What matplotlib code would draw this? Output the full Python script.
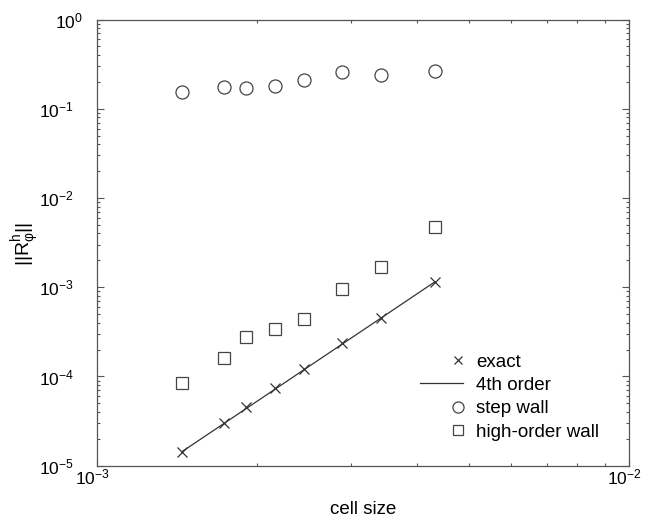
import matplotlib
matplotlib.use("Agg")
import matplotlib.pyplot as plt
from matplotlib.ticker import LogLocator, FuncFormatter, NullFormatter
from matplotlib.legend_handler import HandlerLine2DCompound
from matplotlib.transforms import ScaledTranslation
import numpy as np

plt.rcParams['font.family'] = ['Liberation Sans', 'DejaVu Sans']
plt.rcParams['mathtext.fontset'] = 'custom'
plt.rcParams['mathtext.rm'] = 'Liberation Sans'
plt.rcParams['mathtext.it'] = 'Liberation Sans:italic'
plt.rcParams['mathtext.bf'] = 'Liberation Sans:bold'
plt.rcParams['axes.unicode_minus'] = False

# ---- data ----
cell_size = [1.443e-3, 1.733e-3, 1.908e-3, 2.163e-3, 2.446e-3, 2.888e-3, 3.415e-3, 4.318e-3]
exact = [1.43e-5, 3.01e-5, 4.51e-5, 7.36e-5, 1.21e-4, 2.35e-4, 4.55e-4, 1.15e-3]
step_wall = [0.155, 0.177, 0.172, 0.181, 0.211, 0.256, 0.239, 0.263]
high_order_wall = [8.5e-5, 1.60e-4, 2.77e-4, 3.37e-4, 4.43e-4, 9.47e-4, 1.67e-3, 4.69e-3]
fourth_order_x = [1.443e-3, 4.318e-3]
fourth_order_y = [1.43e-5, 1.15e-3]

labels = ["exact", "4th order", "step wall", "high-order wall"]
x_label = "cell size"
y_label = r"$\mathregular{||R}_{\mathregular{φ}}^{\mathregular{h}}\mathregular{||}$"
x_limits = (1e-3, 1e-2)
y_limits = (1e-5, 1e0)

W, H = 645, 522
fig = plt.figure(figsize=(W / 100, H / 100), dpi=100)
L, R, T, B = 97, 629, 19.5, 465.7
ax = fig.add_axes([L / W, 1 - B / H, (R - L) / W, (B - T) / H])

ink = '#333333'
ax.plot(cell_size, exact, linestyle='none', marker='x', markersize=7.2,
        markeredgecolor=ink, markeredgewidth=0.9, label=labels[0])
ax.plot(fourth_order_x, fourth_order_y, '-', color=ink, linewidth=0.9, label=labels[1])
ax.plot(cell_size, step_wall, linestyle='none', marker='o', markersize=9.4,
        markerfacecolor='none', markeredgecolor='#444444', markeredgewidth=0.9, label=labels[2])
ax.plot(cell_size, high_order_wall, linestyle='none', marker='s', markersize=8,
        markerfacecolor='none', markeredgecolor='#444444', markeredgewidth=0.9, label=labels[3])

ax.set_xscale('log')
ax.set_yscale('log')
ax.set_xlim(*x_limits)
ax.set_ylim(*y_limits)

fmt = FuncFormatter(lambda v, p: r"$\mathregular{10^{%d}}$" % int(round(np.log10(v))))
ax.xaxis.set_major_locator(LogLocator(base=10, numticks=20))
ax.yaxis.set_major_locator(LogLocator(base=10, numticks=20))
ax.xaxis.set_minor_locator(LogLocator(base=10, subs=np.arange(2, 10), numticks=20))
ax.yaxis.set_minor_locator(LogLocator(base=10, subs=np.arange(2, 10), numticks=20))
ax.xaxis.set_major_formatter(fmt)
ax.yaxis.set_major_formatter(fmt)
ax.xaxis.set_minor_formatter(NullFormatter())
ax.yaxis.set_minor_formatter(NullFormatter())

spine_c = '#555555'
for s in ax.spines.values():
    s.set_color(spine_c)
    s.set_linewidth(0.9)
ax.tick_params(which='both', direction='in', top=True, right=True, color=spine_c, width=0.8)
ax.tick_params(which='major', length=5)
ax.tick_params(which='minor', length=2.5)
ax.tick_params(axis='y', which='major', pad=16.5, labelsize=12.5)
ax.tick_params(axis='x', which='major', pad=1, labelsize=12.5)

# label offsets to mimic original placement
for lab in ax.get_xticklabels():
    lab.set_transform(lab.get_transform() + ScaledTranslation(-5 / 100, 0, fig.dpi_scale_trans))
fig.canvas.draw()
for tick in ax.yaxis.get_major_ticks():
    if abs(tick.get_loc() - 1.0) < 1e-9:
        lbl = tick.label1
        lbl.set_transform(lbl.get_transform() + ScaledTranslation(9 / 100, 0, fig.dpi_scale_trans))

ax.set_xlabel(x_label, fontsize=13.5, labelpad=10)
ax.set_ylabel(y_label, fontsize=14)
ax.yaxis.set_label_coords((42 - L) / (R - L), 1 - (244 - T) / (B - T))


class RightMarkerHandler(HandlerLine2DCompound):
    def get_xdata(self, legend, xdescent, ydescent, width, height, fontsize):
        xdata = np.array([-xdescent, -xdescent + width])
        xdata_marker = np.array([-xdescent + width - 0.3 * fontsize])
        return xdata, xdata_marker


handles, lbls = ax.get_legend_handles_labels()
leg = ax.legend(handles, lbls, loc='center left',
                bbox_to_anchor=((420 - L) / (R - L), 1 - (397 - T) / (B - T)),
                bbox_transform=ax.transAxes, frameon=False, fontsize=13.5,
                borderpad=0, borderaxespad=0, labelspacing=0.33,
                handlelength=2.3, handletextpad=0.68, numpoints=1, markerscale=0.85,
                handler_map={h: RightMarkerHandler() for h in handles})

fig.savefig("out.png", dpi=100)
